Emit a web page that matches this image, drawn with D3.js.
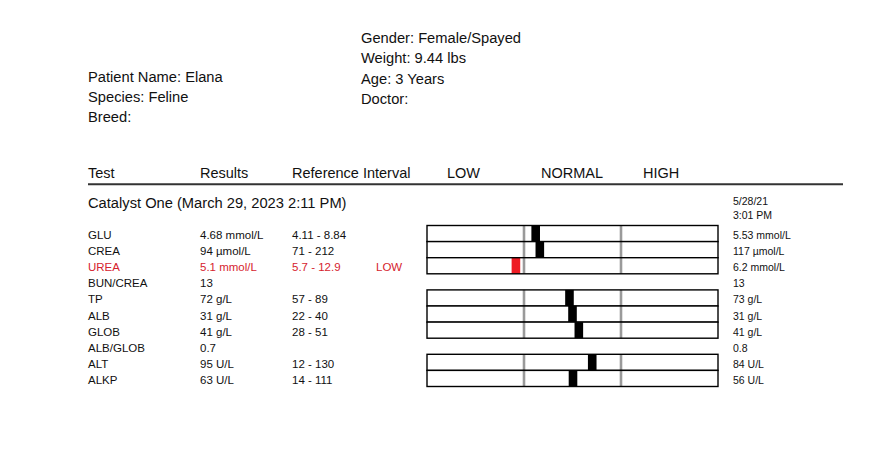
<!DOCTYPE html>
<html>
<head>
<meta charset="utf-8">
<script src="https://cdn.jsdelivr.net/npm/d3@7"></script>
<style>
  body { margin: 0; background: #fff; }
  svg text { font-family: "Liberation Sans", Arial, sans-serif; fill: #111; }
</style>
</head>
<body>
<svg id="chart" width="894" height="473"></svg>
<script>
// patient header
var leftInfo = ["Patient Name: Elana", "Species: Feline", "Breed:"];
var rightInfo = ["Gender: Female/Spayed", "Weight: 9.44 lbs", "Age: 3 Years", "Doctor:"];
var headers = ["Test", "Results", "Reference Interval", "LOW", "NORMAL", "HIGH"];

// panel
var panelTitle = "Catalyst One (March 29, 2023 2:11 PM)";
var prevDate = ["5/28/21", "3:01 PM"];

var tests   = ["GLU", "CREA", "UREA", "BUN/CREA", "TP", "ALB", "GLOB", "ALB/GLOB", "ALT", "ALKP"];
var values  = [4.68, 94, 5.1, 13, 72, 31, 41, 0.7, 95, 63];
var units   = ["mmol/L", "µmol/L", "mmol/L", "", "g/L", "g/L", "g/L", "", "U/L", "U/L"];
var refLow  = [4.11, 71, 5.7, null, 57, 22, 28, null, 12, 14];
var refHigh = [8.84, 212, 12.9, null, 89, 40, 51, null, 130, 111];
var flags   = ["", "", "LOW", "", "", "", "", "", "", ""];
var prevValues = [5.53, 117, 6.2, 13, 73, 31, 41, 0.8, 84, 56];

var svg = d3.select("#chart");
var red = "#d6232e";

///////////////////////////////////////////////////////////////////////////////
// header block

svg.selectAll("text.left-info").data(leftInfo).enter().append("text")
  .attr("class", "left-info")
  .attr("x", 88).attr("y", function (d, i) { return 82 + i * 20; })
  .style("font-size", "14.7px").text(function (d) { return d; });

svg.selectAll("text.right-info").data(rightInfo).enter().append("text")
  .attr("class", "right-info")
  .attr("x", 361).attr("y", function (d, i) { return 43 + i * 20.4; })
  .style("font-size", "14.7px").text(function (d) { return d; });

// column headers
var colX = [88, 200, 292, 447, 541, 643];
svg.selectAll("text.col-head").data(headers).enter().append("text")
  .attr("class", "col-head")
  .attr("x", function (d, i) { return colX[i]; }).attr("y", 178)
  .style("font-size", "14.5px").text(function (d) { return d; });

svg.append("line").attr("x1", 88).attr("x2", 843).attr("y1", 184.2).attr("y2", 184.2)
  .attr("stroke", "#333").attr("stroke-width", 2);

svg.append("text").attr("x", 88).attr("y", 208)
  .style("font-size", "14.7px").text(panelTitle);

svg.selectAll("text.prev-date").data(prevDate).enter().append("text")
  .attr("class", "prev-date")
  .attr("x", 733).attr("y", function (d, i) { return 205 + i * 14.3; })
  .style("font-size", "10.5px").text(function (d) { return d; });

///////////////////////////////////////////////////////////////////////////////
// rows

var y = d3.scaleLinear().domain([0, 1]).range([225.5, 241.6]);
var rowH = y(1) - y(0);
// whole gauge split in thirds: low / normal / high
var zone = d3.scaleLinear().domain([0, 3]).range([427, 718]);

var rows = tests.map(function (t, i) {
  return { i: i, test: t, value: values[i], unit: units[i], lo: refLow[i],
           hi: refHigh[i], flag: flags[i], prev: prevValues[i] };
});

var fmt = function (v, u) { return u ? v + " " + u : String(v); };
var colour = function (d) { return d.flag ? red : "#111"; };

var rowG = svg.selectAll("g.row").data(rows).enter().append("g").attr("class", "row");

rowG.append("text").attr("x", 88).attr("y", function (d) { return y(d.i) + 13.5; })
  .style("font-size", "11.5px").style("fill", colour).text(function (d) { return d.test; });
rowG.append("text").attr("x", 200).attr("y", function (d) { return y(d.i) + 13.5; })
  .style("font-size", "11.5px").style("fill", colour)
  .text(function (d) { return fmt(d.value, d.unit); });
rowG.filter(function (d) { return d.lo !== null; }).append("text")
  .attr("x", 292).attr("y", function (d) { return y(d.i) + 13.5; })
  .style("font-size", "11.5px").style("fill", colour)
  .text(function (d) { return d.lo + " - " + d.hi; });
rowG.filter(function (d) { return d.flag; }).append("text")
  .attr("x", 376).attr("y", function (d) { return y(d.i) + 13.5; })
  .style("font-size", "11.5px").style("fill", red).text(function (d) { return d.flag; });
rowG.append("text").attr("x", 733).attr("y", function (d) { return y(d.i) + 13.5; })
  .style("font-size", "10.5px")
  .text(function (d) { return fmt(d.prev, d.unit); });

// gauges, only for tests with a reference interval
var gauged = rowG.filter(function (d) { return d.lo !== null; });

gauged.append("rect")
  .attr("x", zone(0)).attr("width", zone(3) - zone(0))
  .attr("y", function (d) { return y(d.i); }).attr("height", rowH)
  .attr("fill", "#fff");

gauged.selectAll("line.zone").data(function (d) {
  return [1, 2].map(function (k) { return { k: k, i: d.i }; });
}).enter().append("line")
  .attr("class", "zone")
  .attr("x1", function (d) { return zone(d.k); }).attr("x2", function (d) { return zone(d.k); })
  .attr("y1", function (d) { return y(d.i); }).attr("y2", function (d) { return y(d.i + 1); })
  .attr("stroke", "#9a9a9a").attr("stroke-width", 2.6);

gauged.append("rect")
  .attr("x", function (d) {
    var s = d3.scaleLinear().domain([d.lo, d.hi]).range([zone(1), zone(2)]);
    return s(d.value) - 4.3;
  })
  .attr("width", 8.6)
  .attr("y", function (d) { return y(d.i); }).attr("height", rowH)
  .attr("fill", function (d) { return d.flag ? "#ee1c24" : "#000"; });

gauged.append("rect")
  .attr("x", zone(0)).attr("width", zone(3) - zone(0))
  .attr("y", function (d) { return y(d.i); }).attr("height", rowH)
  .attr("fill", "none").attr("stroke", "#000").attr("stroke-width", 1.4);
</script>
</body>
</html>
